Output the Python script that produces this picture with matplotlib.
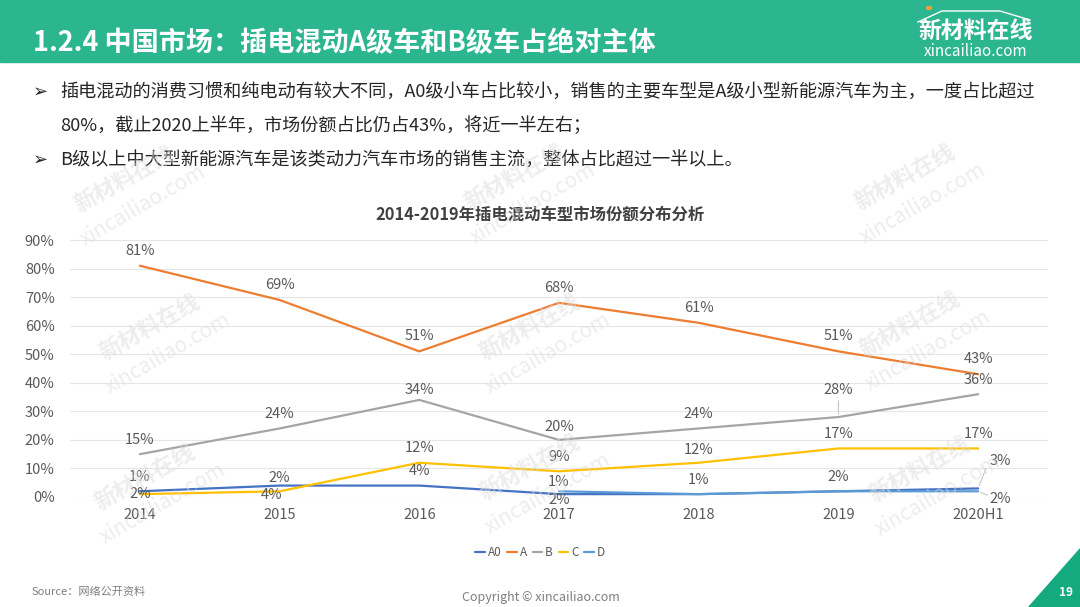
import numpy as np
import matplotlib
matplotlib.use('Agg')
import matplotlib.pyplot as plt
from matplotlib.patches import Rectangle, Polygon

plt.rcParams['font.family'] = ['Noto Sans CJK SC', 'DejaVu Sans']

# data (percent)
years = ['2014', '2015', '2016', '2017', '2018', '2019', '2020H1']
A0 = [2, 4, 4, 1, 1, 2, 3]
A = [81, 69, 51, 68, 61, 51, 43]
B = [15, 24, 34, 20, 24, 28, 36]
C = [1, 2, 12, 9, 12, 17, 17]
D = [np.nan, np.nan, np.nan, 2, 1, 2, 2]

series_names = ['A0', 'A', 'B', 'C', 'D']
colors = ['#4472C4', '#ED7D31', '#A5A5A5', '#FFC000', '#5B9BD5']

W, H = 1080, 607
def fx(x):
    return x / W
def fy(y):
    return 1 - y / H

fig = plt.figure(figsize=(10.8, 6.07), dpi=100)
fig.patch.set_facecolor('white')

# header bar
fig.patches.append(Rectangle((0, fy(62)), 1, 62 / H, transform=fig.transFigure,
                             color='#2CB68F', zorder=0))
fig.text(fx(33), fy(43), '1.2.4 中国市场：插电混动A级车和B级车占绝对主体',
         color='white', fontsize=19.5, fontweight='bold', va='center', ha='left')
fig.text(fx(976), fy(31), '新材料在线', color='white', fontsize=16.5,
         fontweight='bold', va='center', ha='center')
fig.text(fx(976), fy(51), 'xincailiao.com', color='white', fontsize=11,
         va='center', ha='center')
fig.lines.append(plt.Line2D([fx(918), fx(942), fx(1000), fx(1030)],
                            [fy(22), fy(11), fy(11), fy(20)],
                            transform=fig.transFigure, color='white', lw=1))
fig.patches.append(plt.Circle((fx(929), fy(8)), 2.5 / W, transform=fig.transFigure,
                              color='#F0A030'))

# bullets
bullet_font = dict(fontsize=13.1, color='#262626', va='center', ha='left')
fig.text(fx(33), fy(92), '➢', family='DejaVu Sans', fontsize=13, color='#262626', va='center')
fig.text(fx(60), fy(92), '插电混动的消费习惯和纯电动有较大不同，A0级小车占比较小，销售的主要车型是A级小型新能源汽车为主，一度占比超过',
         **bullet_font)
fig.text(fx(60), fy(126), '80%，截止2020上半年，市场份额占比仍占43%，将近一半左右；', **bullet_font)
fig.text(fx(33), fy(160), '➢', family='DejaVu Sans', fontsize=13, color='#262626', va='center')
fig.text(fx(60), fy(160), 'B级以上中大型新能源汽车是该类动力汽车市场的销售主流，整体占比超过一半以上。',
         **bullet_font)

# chart title
fig.text(fx(540), fy(215), '2014-2019年插电混动车型市场份额分布分析', fontsize=11.8,
         fontweight='bold', color='#404040', ha='center', va='center')

# axes
ax = fig.add_axes([fx(70), fy(497), (1048 - 70) / W, (497 - 240) / H])
ax.set_facecolor('none')
x = np.arange(len(years))
data = [A0, A, B, C, D]
for name, vals, col in zip(series_names, data, colors):
    ax.plot(x, vals, color=col, lw=1.6, label=name, solid_capstyle='round')

ax.set_xlim(-0.5, len(years) - 0.5)
ax.set_ylim(0, 90)
ax.set_yticks(np.arange(0, 91, 10))
ax.set_yticklabels([f'{v}%' for v in range(0, 91, 10)])
ax.set_xticks(x)
ax.set_xticklabels(years)
ax.tick_params(length=0, labelsize=10.5, labelcolor='#595959')
ax.tick_params(axis='y', pad=11)
ax.tick_params(axis='x', pad=8)
ax.grid(axis='y', color='#E6E6E6', lw=0.8)
ax.set_axisbelow(True)
for s in ax.spines.values():
    s.set_visible(False)

lab = dict(fontsize=10.5, color='#595959', ha='center', va='center',
           textcoords='offset pixels')

# data labels: offsets in pixels
for i, v in enumerate(A):
    ax.annotate(f'{v}%', (i, v), xytext=(0, 15), **lab)
b_dy = [14, 14, 10, 13, 14, 27, 14]
for i, v in enumerate(B):
    ax.annotate(f'{v}%', (i, v), xytext=(0, b_dy[i]), **lab)
c_dy = [17, 13, 15, 14, 13, 14, 14]
for i, v in enumerate(C):
    ax.annotate(f'{v}%', (i, v), xytext=(0, c_dy[i]), **lab)
a0_off = [(0, -3), (-8, -9), (0, 15), (0, 12), (0, 14), (0, 14), (22, 27)]
for i, v in enumerate(A0):
    ax.annotate(f'{A0[i]}%', (i, v), xytext=a0_off[i], **lab)
for i, off in [(3, (0, -9)), (6, (22, -8))]:
    ax.annotate(f'{D[i]}%', (i, D[i]), xytext=off, **lab)

# leader lines
ax.annotate('', (5, B[5]), xytext=(0, 19), textcoords='offset pixels',
            arrowprops=dict(arrowstyle='-', color='#BFBFBF', lw=0.7))
ax.annotate('', (6, A0[6]), xytext=(9, 23), textcoords='offset pixels',
            arrowprops=dict(arrowstyle='-', color='#BFBFBF', lw=0.7))
ax.annotate('', (6, D[6]), xytext=(12, -5), textcoords='offset pixels',
            arrowprops=dict(arrowstyle='-', color='#BFBFBF', lw=0.7))

fig.legend(loc='center', bbox_to_anchor=(fx(540), fy(553)), ncol=5, frameon=False,
           handlelength=0.8, handletextpad=0.25, columnspacing=0.5, fontsize=8.5,
           labelcolor='#595959')

# watermarks
for cx, cy in [(125, 180), (515, 178), (905, 178),
               (150, 328), (530, 328), (910, 325),
               (145, 478), (530, 468), (920, 470)]:
    fig.text(fx(cx), fy(cy), '新材料在线', rotation=29, fontsize=16, color='#DCDCDC',
             alpha=0.5, ha='center', va='center', fontweight='bold', zorder=10)
    fig.text(fx(cx + 18), fy(cy + 25), 'xincailiao.com', rotation=30, fontsize=15,
             color='#DCDCDC', alpha=0.5, ha='center', va='center', zorder=10)

# footer
fig.text(fx(31), fy(592), 'Source：网络公开资料', fontsize=8, style='italic',
         color='#7F7F7F', va='center', ha='left')
fig.text(fx(541), fy(597), 'Copyright © xincailiao.com', fontsize=9,
         color='#7F7F7F', va='center', ha='center')
fig.patches.append(Polygon([(fx(1028), fy(607)), (1, fy(607)), (1, fy(548))],
                           closed=True, transform=fig.transFigure, color='#14A97E'))
fig.text(fx(1066), fy(592), '19', fontsize=8.5, fontweight='bold', color='white',
         ha='center', va='center')

fig.savefig('out.png', dpi=100)
